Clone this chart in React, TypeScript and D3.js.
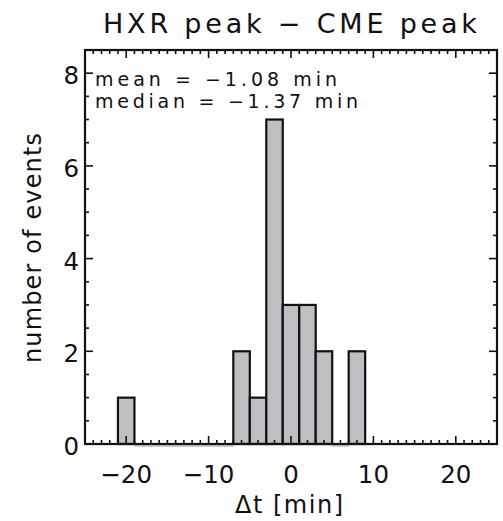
import React from "react";
import * as d3 from "d3";

// Histogram of HXR-peak minus CME-peak time differences (2-minute bins)
const binLeftEdges = [-21, -19, -17, -15, -13, -11, -9, -7, -5, -3, -1, 1, 3, 5, 7];
const eventCounts = [1, 0, 0, 0, 0, 0, 0, 2, 1, 7, 3, 3, 2, 0, 2];
const binWidth = 2;

const xTickValues = [-20, -10, 0, 10, 20];
const yTickValues = [0, 2, 4, 6, 8];

const titleText = "HXR peak \u2212 CME peak";
const statLines = ["mean = \u22121.08 min", "median = \u22121.37 min"];
const xLabel = "\u0394t [min]";
const yLabel = "number of events";

const W = 503;
const H = 521;
const left = 85;
const right = 497;
const top = 50;
const bottom = 444;

const FONT = "'DejaVu Sans', 'Liberation Sans', sans-serif";

export default function App() {
  const x = d3.scaleLinear().domain([-25, 25]).range([left, right]);
  const y = d3.scaleLinear().domain([0, 8.5]).range([bottom, top]);

  const xMinor = d3.range(-25, 25.001, 1);
  const yMinor = d3.range(0, 8.501, 0.5);

  const fmt = (v: number) => (v < 0 ? "\u2212" + Math.abs(v) : String(v));

  const bars = binLeftEdges.map((b, i) => ({ x0: b, x1: b + binWidth, n: eventCounts[i] }));

  return (
    <svg
      width={W}
      height={H}
      style={{ position: "absolute", left: 0, top: 0, background: "#fff" }}
      fontFamily={FONT}
    >
      {/* zero-count bins: thin grey baseline under the axis */}
      {bars
        .filter((d) => d.n === 0)
        .map((d, i) => (
          <line
            key={"z" + i}
            x1={x(d.x0)}
            x2={x(d.x1)}
            y1={y(0) + 2}
            y2={y(0) + 2}
            stroke="#b8b9bd"
            strokeWidth={1.5}
          />
        ))}

      {/* histogram bars */}
      {bars
        .filter((d) => d.n > 0)
        .map((d, i) => (
          <rect
            key={"b" + i}
            x={x(d.x0)}
            y={y(d.n)}
            width={x(d.x1) - x(d.x0)}
            height={y(0) - y(d.n)}
            fill="#bebfc3"
            stroke="#111"
            strokeWidth={2.2}
          />
        ))}

      {/* x minor and major ticks, bottom and top */}
      {xMinor.map((v) => {
        const major = xTickValues.includes(v);
        const len = major ? 8 : 4;
        return (
          <g key={"xt" + v}>
            <line x1={x(v)} x2={x(v)} y1={bottom} y2={bottom - len} stroke="#111" strokeWidth={1.6} />
            <line x1={x(v)} x2={x(v)} y1={top} y2={top + len} stroke="#111" strokeWidth={1.6} />
          </g>
        );
      })}

      {/* y minor and major ticks, left and right */}
      {yMinor.map((v) => {
        const major = yTickValues.includes(v);
        const len = major ? 8 : 4;
        return (
          <g key={"yt" + v}>
            <line x1={left} x2={left + len} y1={y(v)} y2={y(v)} stroke="#111" strokeWidth={1.6} />
            <line x1={right} x2={right - len} y1={y(v)} y2={y(v)} stroke="#111" strokeWidth={1.6} />
          </g>
        );
      })}

      {/* plot frame */}
      <rect
        x={left}
        y={top}
        width={right - left}
        height={bottom - top}
        fill="none"
        stroke="#111"
        strokeWidth={2.2}
      />

      {/* x tick labels */}
      {xTickValues.map((v) => (
        <text key={"xl" + v} x={x(v)} y={483} textAnchor="middle" fontSize={24.5} fill="#111">
          {fmt(v)}
        </text>
      ))}

      {/* y tick labels */}
      {yTickValues.map((v) => (
        <text key={"yl" + v} x={79} y={y(v) + 11} textAnchor="end" fontSize={24.5} fill="#111">
          {fmt(v)}
        </text>
      ))}

      {/* title */}
      <text x={103} y={33} fontSize={27} fill="#111" textLength={374} lengthAdjust="spacing">
        {titleText}
      </text>

      {/* summary statistics */}
      <text x={95} y={86} fontSize={19} fill="#111" textLength={242} lengthAdjust="spacing">
        {statLines[0]}
      </text>
      <text x={95} y={108} fontSize={19} fill="#111" textLength={263} lengthAdjust="spacing">
        {statLines[1]}
      </text>

      {/* axis titles */}
      <text x={235} y={513} fontSize={24} fill="#111" textLength={108} lengthAdjust="spacing">
        {xLabel}
      </text>
      <text
        transform={`translate(41,248) rotate(-90)`}
        textAnchor="middle"
        fontSize={24}
        fill="#111"
        textLength={230}
        lengthAdjust="spacing"
      >
        {yLabel}
      </text>
    </svg>
  );
}
